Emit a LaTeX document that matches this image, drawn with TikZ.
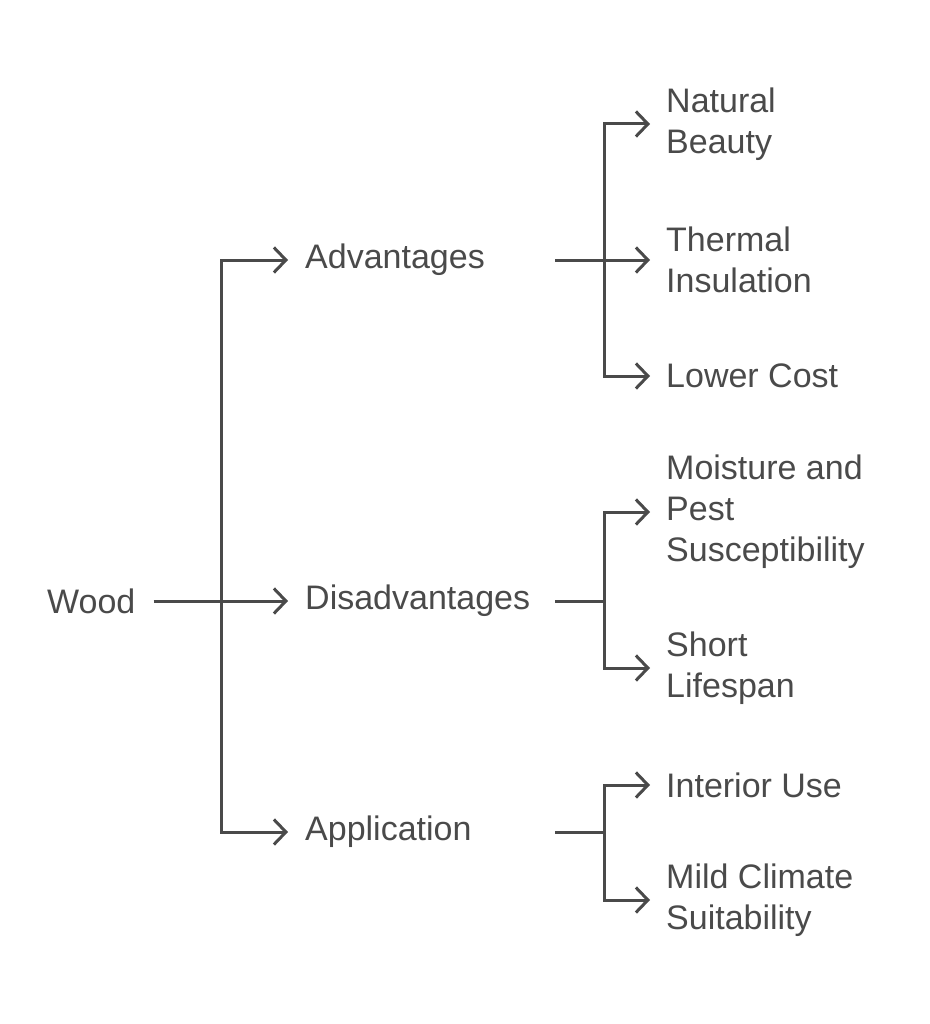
\documentclass[tikz,border=0pt]{standalone}
\usepackage{fontspec}
\setmainfont{Liberation Sans}
\usepackage{tikz}
\usetikzlibrary{positioning,arrows.meta}
\definecolor{inkgray}{HTML}{4A4A4A}

\begin{document}
\begin{tikzpicture}[x=1pt,y=-1pt,>={Straight Barb[length=12pt,width=25pt]},
    lbl/.style={anchor=west,inner sep=0pt,text=inkgray,align=left,
        font=\fontsize{34}{41}\selectfont},
    link/.style={line width=3pt,draw=inkgray}]
            \useasboundingbox (0,0) rectangle (929,1024);

            \node[lbl] (wood) at (47,601) {Wood};

            \node[lbl] (adv) at (305,260) {Advantages};
            \node[lbl] (dis) at (305,601) {Disadvantages};
            \node[lbl] (app) at (305,832) {Application};

            \node[lbl] (beauty)   at (666,124) {Natural\\Beauty};
            \node[lbl] (thermal)  at (666,260) {Thermal\\Insulation};
            \node[lbl] (cost)     at (666,376) {Lower Cost};
            \node[lbl] (moisture) at (666,512) {Moisture and\\Pest\\Susceptibility};
            \node[lbl] (short)    at (666,668) {Short\\Lifespan};
            \node[lbl] (interior) at (666,785) {Interior Use};
            \node[lbl] (mild)     at (666,900) {Mild Climate\\Suitability};

            \coordinate (trunk) at (221,601);
            \coordinate (advTail) at (555,260);
            \coordinate (advFork) at (604,260);
            \coordinate (disTail) at (555,601);
            \coordinate (disFork) at (604,601);
            \coordinate (appTail) at (555,832);
            \coordinate (appFork) at (604,832);

            \draw[link,->,shorten <=18pt,shorten >=17pt] (wood.east) -- (dis.west);
            \draw[link,<->,shorten <=17pt,shorten >=17pt] (adv.west) -- (trunk |- adv.west) -- (trunk |- app.west) -- (app.west);

            \draw[link,<->,shorten <=16pt,shorten >=16pt] (beauty.west) -- (advFork |- beauty.west) -- (advFork |- cost.west) -- (cost.west);
            \draw[link,->,shorten >=16pt] (advTail) -- (thermal.west);

            \draw[link,<->,shorten <=16pt,shorten >=16pt] (moisture.west) -- (disFork |- moisture.west) -- (disFork |- short.west) -- (short.west);
            \draw[link] (disTail) -- (disFork);

            \draw[link,<->,shorten <=16pt,shorten >=16pt] (interior.west) -- (appFork |- interior.west) -- (appFork |- mild.west) -- (mild.west);
            \draw[link] (appTail) -- (appFork);
\end{tikzpicture}
\end{document}
